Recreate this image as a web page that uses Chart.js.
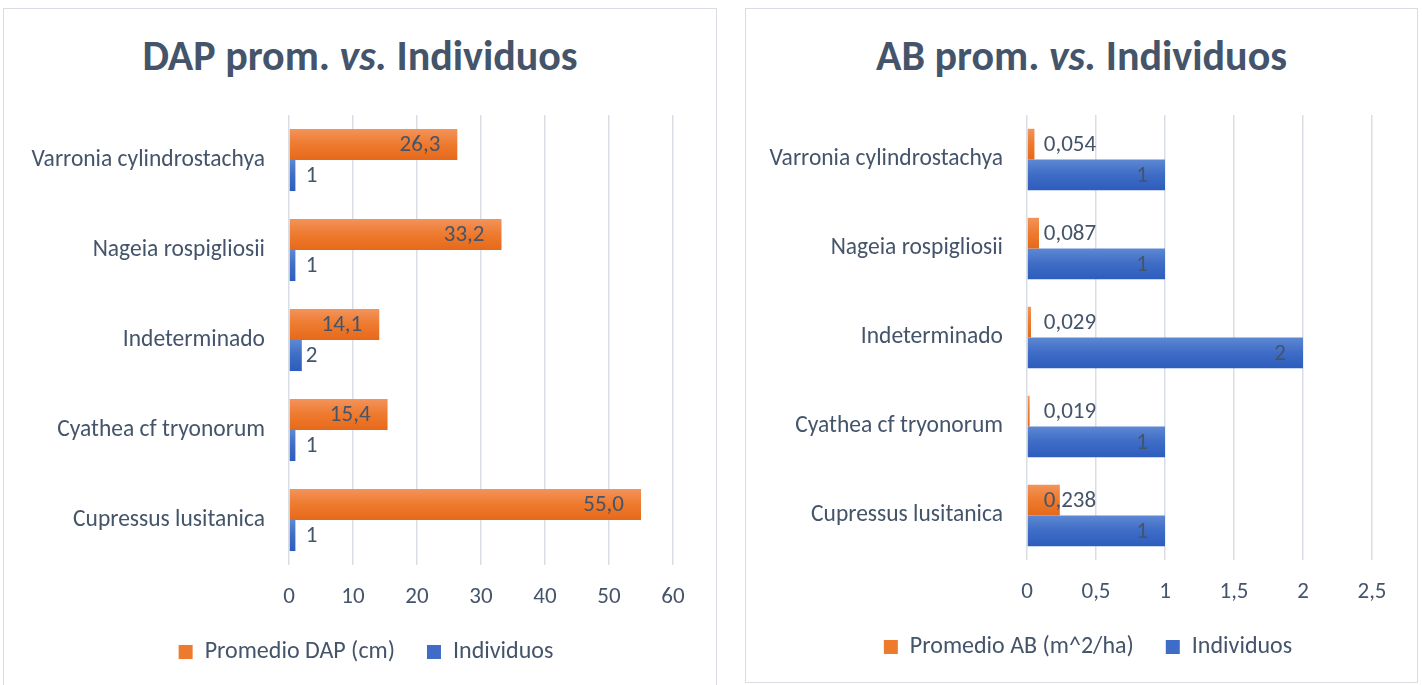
<!DOCTYPE html>
<html>
<head>
<meta charset="utf-8">
<script src="https://cdn.jsdelivr.net/npm/chart.js@4.4.1/dist/chart.umd.min.js"></script>
<style>
  html, body { margin:0; padding:0; background:#fff; width:1422px; height:685px; overflow:hidden; position:relative; }
  .box { position:absolute; border:1.5px solid #D9DDE3; box-sizing:border-box; background:#fff; }
  .title { position:absolute; left:0; right:0; top:21px; text-align:center; font-family:Carlito, Lato, sans-serif; font-weight:bold; font-size:42px; color:#44546A; white-space:nowrap; }
  .title i { font-style:italic; }
  .cw { position:absolute; }
</style>
</head>
<body>
<div class="box" style="left:3px;top:8px;width:714px;height:690px;">
  <div class="title">DAP prom. <i>vs.</i> Individuos</div>
</div>
<div class="box" style="left:745px;top:8px;width:673px;height:675px;">
  <div class="title">AB prom. <i>vs.</i> Individuos</div>
</div>
<div class="cw" style="left:4px;top:100px;width:712px;height:568px;"><canvas id="c1"></canvas></div>
<div class="cw" style="left:746px;top:100px;width:671px;height:563px;"><canvas id="c2"></canvas></div>
<script>
// ---- data ----
const species = ["Varronia cylindrostachya", "Nageia rospigliosii", "Indeterminado", "Cyathea cf tryonorum", "Cupressus lusitanica"];
const dapValues = [26.3, 33.2, 14.1, 15.4, 55.0];
const abValues = [0.054, 0.087, 0.029, 0.019, 0.238];
const individuos = [1, 1, 2, 1, 1];
const dapTicks = [0, 10, 20, 30, 40, 50, 60];
const abTicks = [0, 0.5, 1, 1.5, 2, 2.5];
const dapLabel = "Promedio DAP (cm)";
const abLabel = "Promedio AB (m^2/ha)";
const indLabel = "Individuos";

const FONT = "Carlito, Lato, sans-serif";
const TXT = "#44546A";
const GRID = "#D9DEE5";
const CAT_PCT = 0.69;
const LEG_H = 60;

function barGradient(light, dark, solid) {
  return function(ctx) {
    const chart = ctx.chart;
    if (!chart.chartArea || ctx.type !== 'data') return solid;
    const y = chart.scales.y;
    const center = y.getPixelForValue(ctx.dataIndex);
    const band = chart.chartArea.height / species.length;
    const thick = band * CAT_PCT / 2;
    const top = center - band * CAT_PCT / 2 + ctx.datasetIndex * thick;
    const g = chart.ctx.createLinearGradient(0, top, 0, top + thick);
    g.addColorStop(0, light);
    g.addColorStop(0.5, solid);
    g.addColorStop(1, dark);
    return g;
  };
}
const orangeFill = barGradient("#F3935A", "#E6691A", "#EE7A2E");
const blueFill = barGradient("#5E88D3", "#2D5DBD", "#3E6CC6");

const labelPlugin = {
  id: 'barLabels',
  beforeLayout(chart) {
    const lg = chart.legend;
    if (lg && !lg._fixedFit) {
      const f = lg.fit;
      lg.fit = function() { f.call(this); this.height = LEG_H; };
      lg._fixedFit = true;
    }
  },
  beforeDraw(chart) {
    const lg = chart.legend;
    const c = chart.options.legendCenter;
    if (lg && c != null) {
      const w = lg.right - lg.left;
      lg.left = c - w / 2;
      lg.right = c + w / 2;
    }
  },
  afterDatasetsDraw(chart) {
    const c = chart.ctx;
    chart.data.datasets.forEach((ds, di) => {
      const meta = chart.getDatasetMeta(di);
      meta.data.forEach((bar, i) => {
        const v = ds.data[i];
        const txt = ds.fmt(v);
        c.save();
        c.font = "23px " + FONT;
        c.fillStyle = TXT;
        c.textBaseline = 'middle';
        if (ds.labelPos === 'insideEnd') {
          c.textAlign = 'right';
          c.fillText(txt, bar.x - 17, bar.y + 1);
        } else {
          c.textAlign = 'left';
          c.fillText(txt, bar.base + 16, bar.y + 1);
        }
        c.restore();
      });
    });
  }
};

function legendLabels(chart) {
  const items = Chart.defaults.plugins.legend.labels.generateLabels(chart);
  const solids = ["#EE7A2E", "#3E6CC6"];
  items.forEach((it, k) => { it.fillStyle = solids[k]; it.strokeStyle = solids[k]; it.lineWidth = 0; it.fontColor = TXT; });
  return items;
}

function makeChart(id, firstLabel, firstData, firstFmt, firstPos, secondPos, ticks, yWidth, padRight, legCenter) {
  const fmtComma = (v) => String(v).replace('.', ',');
  return new Chart(document.getElementById(id), {
    type: 'bar',
    data: {
      labels: species,
      datasets: [
        { label: firstLabel, data: firstData, backgroundColor: orangeFill, fmt: firstFmt, labelPos: firstPos,
          categoryPercentage: CAT_PCT, barPercentage: 1.0, borderWidth: 0 },
        { label: indLabel, data: individuos, backgroundColor: blueFill, fmt: (v) => String(v), labelPos: secondPos,
          categoryPercentage: CAT_PCT, barPercentage: 1.0, borderWidth: 0 }
      ]
    },
    options: {
      indexAxis: 'y',
      responsive: true,
      maintainAspectRatio: false,
      animation: false,
      devicePixelRatio: 1,
      legendCenter: legCenter,
      layout: { autoPadding: false, padding: { top: 15, right: padRight, left: 0, bottom: 0 } },
      scales: {
        x: {
          min: ticks[0], max: ticks[ticks.length - 1],
          afterBuildTicks: (s) => { s.ticks = ticks.map(v => ({ value: v })); },
          afterFit: (s) => { s.height = 43; s.paddingLeft = 0; s.paddingRight = 0; },
          grid: { color: GRID, lineWidth: 1.5, drawTicks: false },
          border: { display: false },
          ticks: { color: TXT, font: { family: FONT, size: 23 }, padding: 18, callback: (v) => fmtComma(v) }
        },
        y: {
          afterFit: (s) => { s.width = yWidth; s.paddingTop = 0; s.paddingBottom = 0; },
          grid: { display: false, drawTicks: false },
          border: { display: false },
          ticks: { color: TXT, font: { family: FONT, size: 23.5 }, padding: 24 }
        }
      },
      plugins: {
        legend: {
          position: 'bottom',
          labels: { color: TXT, font: { family: FONT, size: 24 }, boxWidth: 14, boxHeight: 14, padding: 32, generateLabels: legendLabels }
        },
        tooltip: { enabled: false }
      }
    },
    plugins: [labelPlugin]
  });
}

makeChart('c1', dapLabel, dapValues, (v) => v.toFixed(1).replace('.', ','), 'insideEnd', 'insideBase', dapTicks, 285, 43, 362);
makeChart('c2', abLabel, abValues, (v) => v.toFixed(3).replace('.', ','), 'insideBase', 'insideEnd', abTicks, 281, 45, 342);
</script>
</body>
</html>
